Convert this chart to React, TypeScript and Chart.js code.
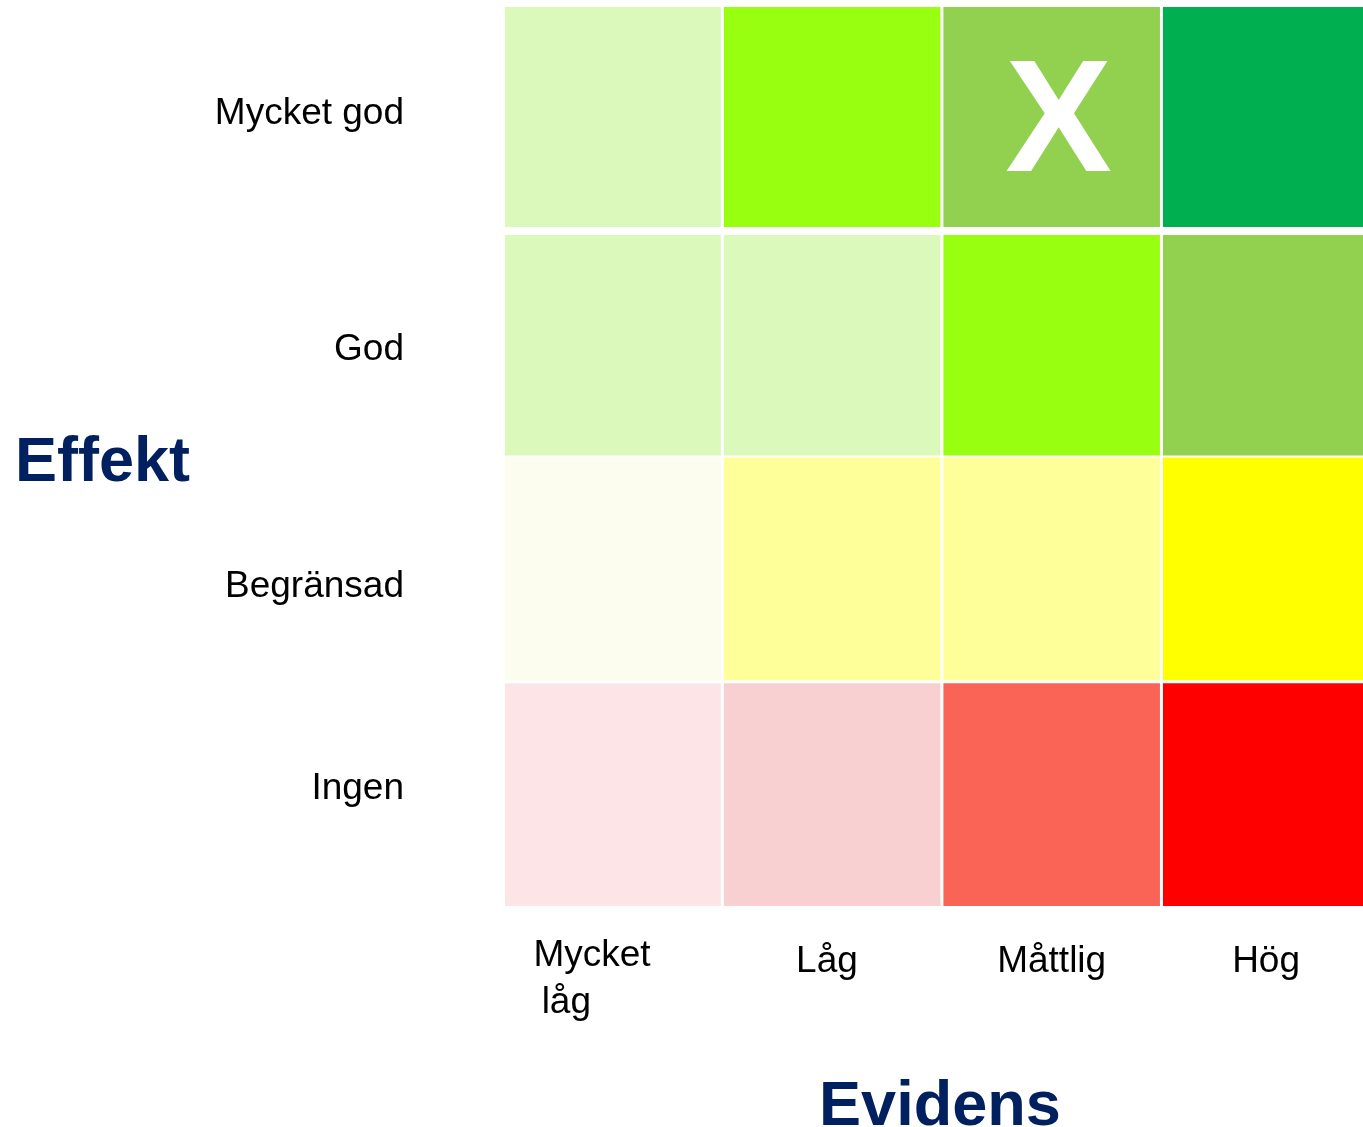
import React, { useEffect, useRef } from 'react';
import { Chart, registerables } from 'chart.js';

Chart.register(...registerables);

// Columns (x axis, "Evidens") and rows (y axis, "Effekt", top to bottom)
const evidensLevels = ['Mycket låg', 'Låg', 'Måttlig', 'Hög'];
const effektLevels = ['Mycket god', 'God', 'Begränsad', 'Ingen'];

// Tick label text as displayed (first label wraps over two lines)
const xTickLabels: (string | string[])[] = [['Mycket    ', 'låg         '], 'Låg ', 'Måttlig', 'Hög '];

// Cell colours per row, one per evidens level
const mycketGodColors = ['#DBF9BB', '#99FF11', '#92D050', '#00B050'];
const godColors = ['#DBF9BB', '#DBF9BB', '#99FF11', '#92D050'];
const begransadColors = ['#FCFDEF', '#FFFF99', '#FFFF99', '#FFFF00'];
const ingenColors = ['#FDE4E7', '#F9D0D1', '#F96457', '#FF0000'];
const rowColors = [mycketGodColors, godColors, begransadColors, ingenColors];

// Marked cell
const markedEffekt = 'Mycket god';
const markedEvidens = 'Måttlig';
const markText = 'X';

const FONT = "'Liberation Sans', Arial, Helvetica, sans-serif";
const NAVY = '#002060';

// styling: white gaps between cells, small label nudges (top to bottom rows)
const rowBorders = [
  { top: 0, right: 1.5, bottom: 4.75, left: 1.5 },
  { top: 3.25, right: 1.5, bottom: 1, left: 1.5 },
  { top: 1, right: 1.5, bottom: 1, left: 1.5 },
  { top: 2, right: 1.5, bottom: 0, left: 1.5 },
];
const yLabelNudge = [0.027, -0.024, -0.078, 0.02];

const overlayPlugin = {
  id: 'overlay',
  afterDatasetsDraw(chart: any) {
    const { ctx, chartArea, scales } = chart;
    const xs = scales.x;
    const ys = scales.y;
    ctx.save();
    // Marker
    const col = evidensLevels.indexOf(markedEvidens);
    const rowPos = effektLevels.length - 1 - effektLevels.indexOf(markedEffekt);
    const cx = xs.getPixelForValue(col);
    const cy = ys.getPixelForValue(rowPos + 0.5);
    ctx.font = `bold 160px ${FONT}`;
    ctx.fillStyle = '#FFFFFF';
    ctx.textAlign = 'center';
    ctx.textBaseline = 'alphabetic';
    ctx.fillText(markText, cx + 7, cy + 52);

    // Axis titles
    ctx.font = `bold 63px ${FONT}`;
    ctx.fillStyle = NAVY;
    ctx.textAlign = 'left';
    ctx.fillText('Effekt', 15, (chartArea.top + chartArea.bottom) / 2 + 24.5);
    ctx.textAlign = 'center';
    const gx = (xs.getPixelForValue(-0.5) + xs.getPixelForValue(evidensLevels.length - 0.5)) / 2;
    ctx.fillText('Evidens', gx - 2, chart.height - 2);
    ctx.restore();
  },
};

const zeroPadding = (scale: any) => {
  scale.paddingLeft = 0;
  scale.paddingRight = 0;
  scale.paddingTop = 0;
  scale.paddingBottom = 0;
};

export default function App() {
  const canvasRef = useRef<HTMLCanvasElement | null>(null);

  useEffect(() => {
    document.body.style.margin = '0';
    const canvas = canvasRef.current;
    if (!canvas) return;

    const nRows = effektLevels.length;
    const datasets = effektLevels.map((label, i) => {
      const rowPos = nRows - 1 - i;
      return {
        label,
        data: evidensLevels.map((_, c) => ({ x: c, y: [rowPos, rowPos + 1] })),
        backgroundColor: rowColors[i],
        borderColor: '#FFFFFF',
        borderWidth: rowBorders[i],
        borderSkipped: false,
        grouped: false,
        categoryPercentage: 1,
        barPercentage: 1,
        inflateAmount: 0,
      };
    });

    const chart = new Chart(canvas, {
      type: 'bar',
      data: { datasets: datasets as any },
      plugins: [overlayPlugin],
      options: {
        animation: false,
        responsive: false,
        maintainAspectRatio: false,
        layout: { padding: { top: 7, right: 0, bottom: 0, left: 0 } },
        plugins: {
          legend: { display: false },
          tooltip: { enabled: false },
          title: { display: false },
        },
        scales: {
          x: {
            type: 'linear',
            offset: false,
            min: -0.49,
            max: 3.418,
            grid: { display: false, drawTicks: false, offset: false },
            border: { display: false },
            afterBuildTicks: (scale: any) => {
              scale.ticks = evidensLevels.map((_, i) => ({ value: i }));
            },
            afterFit: (scale: any) => {
              scale.height = 221;
              zeroPadding(scale);
            },
            ticks: {
              padding: 27,
              maxRotation: 0,
              autoSkip: false,
              color: '#000000',
              font: (c: any) => {
                const lbl = xTickLabels[c.index];
                return { family: FONT, size: 37, lineHeight: Array.isArray(lbl) ? 1.25 : 1.57 };
              },
              callback: (v: any) => xTickLabels[Number(v)] as any,
            },
          },
          y: {
            type: 'linear',
            offset: false,
            min: 0,
            max: nRows,
            grid: { display: false, drawTicks: false },
            border: { display: false },
            afterBuildTicks: (scale: any) => {
              scale.ticks = effektLevels.map((_, i) => ({
                value: nRows - 1 - i + 0.5 + yLabelNudge[i],
              }));
            },
            afterFit: (scale: any) => {
              scale.width = 505;
              zeroPadding(scale);
            },
            ticks: {
              padding: 101,
              autoSkip: false,
              color: '#000000',
              font: { family: FONT, size: 37 },
              callback: (v: any) => effektLevels[nRows - 1 - Math.floor(Number(v))],
            },
          },
        },
      } as any,
    });

    return () => {
      chart.destroy();
    };
  }, []);

  return (
    <div style={{ width: 1363, height: 1127, background: '#FFFFFF' }}>
      <canvas ref={canvasRef} width={1363} height={1127} style={{ display: 'block' }} />
    </div>
  );
}
